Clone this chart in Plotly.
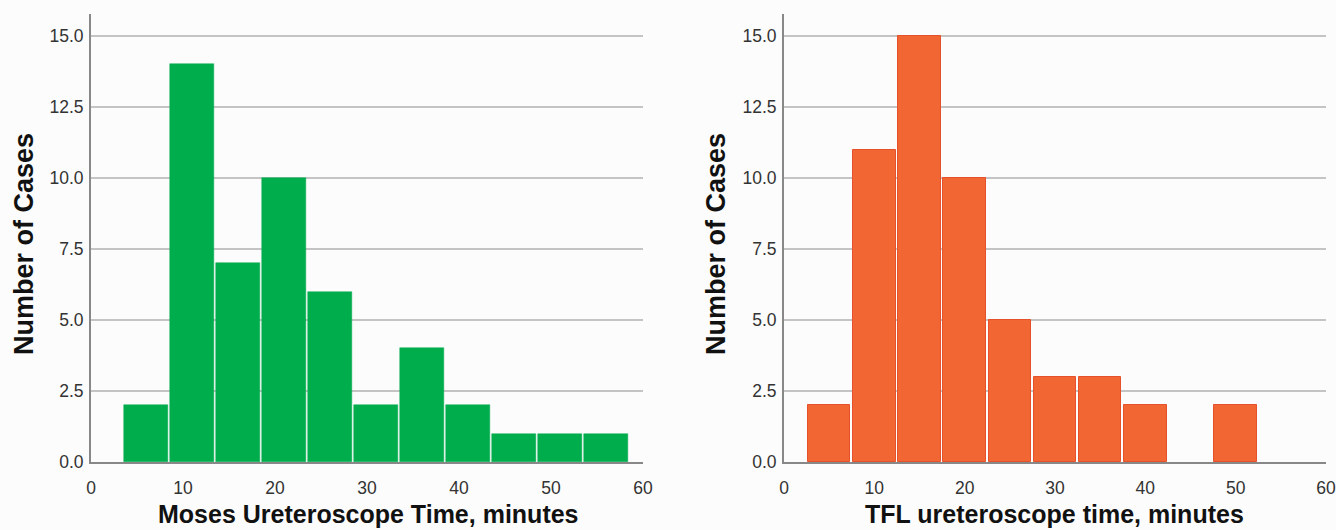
import plotly.graph_objects as go

# ---- data ----
moses_bin_centers = [6, 11, 16, 21, 26, 31, 36, 41, 46, 51, 56]
moses_counts = [2, 14, 7, 10, 6, 2, 4, 2, 1, 1, 1]

tfl_bin_centers = [5, 10, 15, 20, 25, 30, 35, 40, 45, 50]
tfl_counts = [2, 11, 15, 10, 5, 3, 3, 2, 0, 2]

x_ticks = [0, 10, 20, 30, 40, 50, 60]
y_ticks = [0, 2.5, 5, 7.5, 10, 12.5, 15]

left_xtitle = "Moses Ureteroscope Time, minutes"
right_xtitle = "TFL ureteroscope time, minutes"
ytitle = "Number of Cases"

W, H = 1336, 530
GREEN = "#00AD4D"
ORANGE = "#F26633"
ORANGE_EDGE = "#E5512A"
FONT = "Liberation Sans, Arial, sans-serif"


def px(x):
    return x / W


def py(y):
    return (H - y) / H


fig = go.Figure()
fig.add_trace(go.Bar(x=moses_bin_centers, y=moses_counts, width=4.72,
                     marker=dict(color=GREEN, line=dict(color=GREEN, width=0.5)),
                     xaxis="x", yaxis="y", showlegend=False, hoverinfo="skip"))
fig.add_trace(go.Bar(x=tfl_bin_centers, y=tfl_counts, width=4.72,
                     marker=dict(color=ORANGE,
                                 line=dict(color=ORANGE_EDGE,
                                           width=[1 if c > 0 else 0 for c in tfl_counts])),
                     xaxis="x2", yaxis="y2", showlegend=False, hoverinfo="skip"))

ydom = [py(462), py(14)]

xcommon = dict(range=[0, 60], tickvals=x_ticks, showgrid=False, zeroline=False,
               showline=True, linecolor="#888888", linewidth=2, automargin=False,
               ticks="", ticklabelstandoff=9,
               tickfont=dict(family=FONT, size=17.5, color="#333333"))
ycommon = dict(range=[0, 15.77], tickvals=y_ticks, tickformat=".1f",
               showgrid=True, gridcolor="#c4c4c4", gridwidth=1.6, zeroline=False,
               showline=True, linecolor="#888888", linewidth=2, automargin=False,
               ticks="", ticklabelstandoff=2,
               tickfont=dict(family=FONT, size=17.5, color="#333333"))

fig.update_layout(
    width=W, height=H, autosize=False,
    margin=dict(l=0, r=0, t=0, b=0, pad=0),
    paper_bgcolor="#fcfcfc", plot_bgcolor="#fcfcfc",
    bargap=0,
    xaxis=dict(domain=[px(91), px(643)], anchor="y", **xcommon),
    yaxis=dict(domain=ydom, anchor="x", **ycommon),
    xaxis2=dict(domain=[px(784), px(1326)], anchor="y2", **xcommon),
    yaxis2=dict(domain=ydom, anchor="x2", **ycommon),
)

title_font = dict(family=FONT, size=25, color="#111111")
yt_font = dict(family=FONT, size=27, color="#111111")
ann = [
    dict(text="<b>%s</b>" % left_xtitle, x=px(368.5), y=py(514)),
    dict(text="<b>%s</b>" % right_xtitle, x=px(1054), y=py(514)),
]
for a in ann:
    fig.add_annotation(xref="paper", yref="paper", showarrow=False,
                       xanchor="center", yanchor="middle", font=title_font, **a)
for xc in (24, 716):
    fig.add_annotation(text="<b>%s</b>" % ytitle, xref="paper", yref="paper",
                       x=px(xc), y=py(244), textangle=-90, showarrow=False,
                       xanchor="center", yanchor="middle", font=yt_font)

fig.write_html("out.html", config={"displayModeBar": False},
               post_script="document.body.style.margin='0';"
                           "document.body.style.overflow='hidden';")
